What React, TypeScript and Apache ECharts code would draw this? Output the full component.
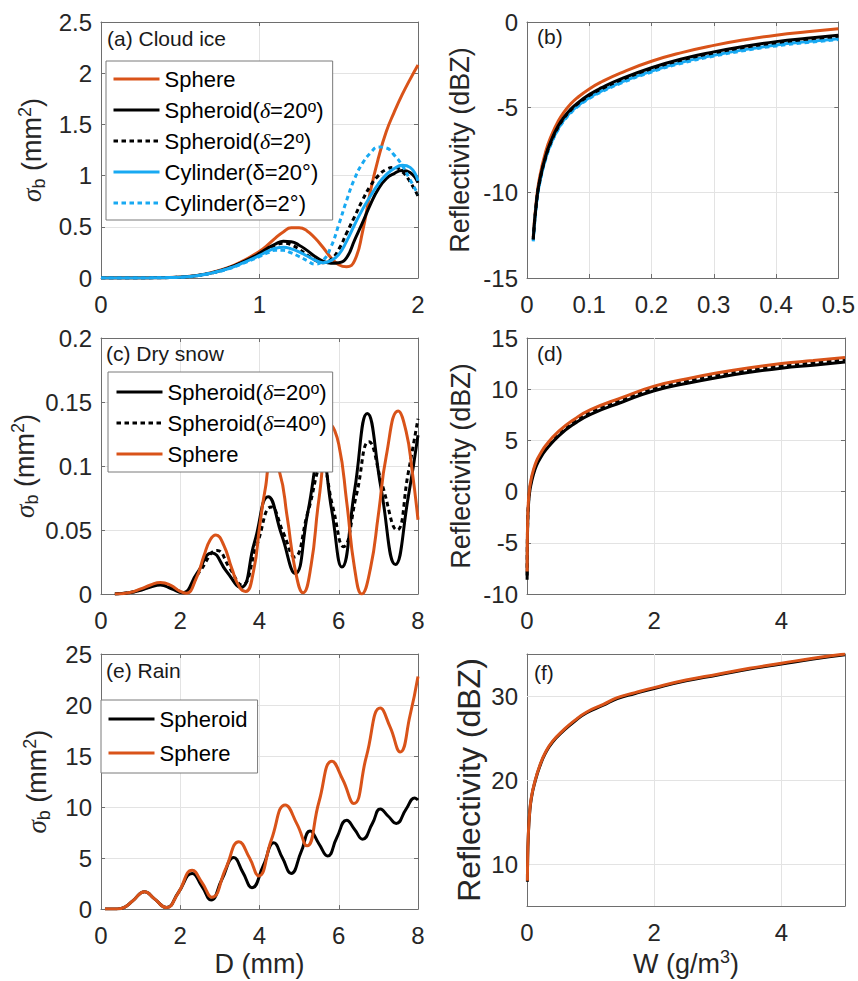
import React, { useEffect, useRef } from 'react';
import * as echarts from 'echarts';

const FONT = '"Liberation Sans", Arial, Helvetica, sans-serif';
const SERIF = '"Liberation Serif", "DejaVu Serif", serif';
const ORANGE = '#D95319';
const BLUE = '#18A9F2';
const BLACK = '#000000';
const AXIS = '#6E6E6E';
const GRIDC = '#E3E3E3';
const LABELC = '#262626';
const DOT = [4.5, 3.5];

// ---------- Panel (a) Cloud ice: sigma_b vs D ----------
const aD = [0, 0.1, 0.2, 0.3, 0.4, 0.5, 0.6, 0.7, 0.8, 0.9, 1.0, 1.05, 1.1, 1.15, 1.2, 1.25, 1.3, 1.35, 1.4, 1.45, 1.5, 1.55, 1.6, 1.65, 1.7, 1.75, 1.8, 1.85, 1.9, 1.95, 2.0];
const aSphere = [0, 0, 0, 0.001, 0.003, 0.009, 0.025, 0.055, 0.1, 0.17, 0.26, 0.32, 0.39, 0.45, 0.49, 0.49, 0.46, 0.39, 0.3, 0.2, 0.13, 0.11, 0.17, 0.45, 0.85, 1.17, 1.43, 1.62, 1.79, 1.94, 2.08];
const aSpheroid20 = [0, 0, 0, 0.001, 0.003, 0.008, 0.022, 0.05, 0.095, 0.16, 0.24, 0.29, 0.33, 0.36, 0.355, 0.32, 0.27, 0.21, 0.165, 0.145, 0.15, 0.2, 0.37, 0.54, 0.72, 0.87, 0.97, 1.02, 1.05, 1.03, 0.93];
const aSpheroid2 = [0, 0, 0, 0.001, 0.003, 0.008, 0.022, 0.05, 0.093, 0.155, 0.23, 0.28, 0.32, 0.34, 0.325, 0.28, 0.225, 0.175, 0.15, 0.18, 0.28, 0.44, 0.6, 0.76, 0.9, 1.0, 1.06, 1.08, 1.04, 0.94, 0.8];
const aCylinder20 = [0, 0, 0, 0.001, 0.003, 0.008, 0.022, 0.05, 0.09, 0.15, 0.22, 0.26, 0.29, 0.3, 0.285, 0.255, 0.215, 0.175, 0.15, 0.17, 0.23, 0.36, 0.52, 0.67, 0.8, 0.92, 1.01, 1.07, 1.1, 1.08, 0.95];
const aCylinder2 = [0, 0, 0, 0.001, 0.003, 0.008, 0.021, 0.048, 0.088, 0.145, 0.21, 0.245, 0.27, 0.27, 0.245, 0.21, 0.17, 0.135, 0.17, 0.3, 0.52, 0.76, 0.97, 1.12, 1.22, 1.28, 1.27, 1.2, 1.1, 0.96, 0.82];

// ---------- Panel (b) Cloud ice: reflectivity vs W ----------
const bW = [0.01, 0.015, 0.02, 0.03, 0.04, 0.05, 0.06, 0.07, 0.08, 0.1, 0.12, 0.15, 0.2, 0.25, 0.3, 0.35, 0.4, 0.45, 0.5];
const bSphere = [-12.6, -10.45, -9.15, -7.6, -6.58, -5.82, -5.25, -4.81, -4.46, -3.92, -3.5, -2.99, -2.3, -1.78, -1.37, -1.04, -0.77, -0.57, -0.4];
const bSpheroid20 = [-12.7, -10.6, -9.35, -7.85, -6.85, -6.1, -5.55, -5.12, -4.78, -4.25, -3.85, -3.35, -2.68, -2.15, -1.75, -1.42, -1.15, -0.95, -0.78];
const bSpheroid2 = [-12.75, -10.65, -9.41, -7.91, -6.91, -6.16, -5.61, -5.18, -4.84, -4.31, -3.91, -3.41, -2.74, -2.21, -1.81, -1.48, -1.21, -1.01, -0.84];
const bCylinder20 = [-12.8, -10.7, -9.47, -7.98, -6.99, -6.25, -5.71, -5.29, -4.95, -4.43, -4.04, -3.55, -2.88, -2.35, -1.95, -1.62, -1.35, -1.15, -0.98];
const bCylinder2 = [-12.85, -10.75, -9.52, -8.03, -7.04, -6.3, -5.76, -5.34, -5.0, -4.48, -4.09, -3.6, -2.93, -2.4, -2.0, -1.67, -1.4, -1.2, -1.03];

// ---------- Panel (c) Dry snow: sigma_b vs D ----------
const cSpheroid20D = [0.35, 0.7, 1.0, 1.25, 1.5, 1.78, 2.05, 2.42, 2.8, 3.16, 3.52, 3.87, 4.22, 4.56, 4.9, 5.22, 5.55, 5.82, 6.08, 6.4, 6.72, 7.07, 7.43, 7.75, 8.0];
const cSpheroid20 = [0, 0.001, 0.003, 0.0055, 0.007, 0.004, 0.001, 0.016, 0.032, 0.018, 0.005, 0.04, 0.076, 0.046, 0.016, 0.064, 0.112, 0.066, 0.021, 0.081, 0.141, 0.082, 0.023, 0.075, 0.124];
const cSpheroid40D = [0.35, 0.7, 1.0, 1.25, 1.5, 1.8, 2.1, 2.5, 2.93, 3.25, 3.55, 3.93, 4.3, 4.6, 4.88, 5.23, 5.58, 5.85, 6.12, 6.45, 6.76, 7.1, 7.47, 7.75, 8.0];
const cSpheroid40 = [0, 0.001, 0.003, 0.006, 0.008, 0.005, 0.001, 0.018, 0.034, 0.02, 0.007, 0.038, 0.068, 0.048, 0.029, 0.065, 0.1, 0.068, 0.037, 0.078, 0.119, 0.085, 0.05, 0.094, 0.137];
const cSphereD = [0.35, 0.7, 1.0, 1.25, 1.5, 1.75, 2.0, 2.15, 2.4, 2.6, 2.75, 2.9, 3.1, 3.3, 3.5, 3.65, 3.85, 4.0, 4.15, 4.3, 4.5, 4.7, 4.9, 5.1, 5.3, 5.5, 5.8, 6.0, 6.2, 6.4, 6.58, 6.8, 7.0, 7.2, 7.5, 7.7, 7.85, 8.0];
const cSphere = [0, 0.001, 0.004, 0.007, 0.009, 0.007, 0.002, 0.0005, 0.012, 0.03, 0.042, 0.046, 0.038, 0.02, 0.005, 0.002, 0.018, 0.052, 0.083, 0.103, 0.096, 0.06, 0.019, 0.001, 0.022, 0.074, 0.132, 0.117, 0.072, 0.02, 0.0, 0.02, 0.062, 0.108, 0.143, 0.127, 0.097, 0.058];

// ---------- Panel (d) Dry snow: reflectivity vs W ----------
const dW = [0.002, 0.005, 0.01, 0.02, 0.04, 0.07, 0.1, 0.15, 0.2, 0.3, 0.5, 0.75, 1.0, 1.5, 2.0, 2.5, 3.0, 3.5, 4.0, 4.5, 5.0];
const dSpheroid20 = [-8.6, -5.6, -3.5, -1.65, -0.15, 0.9, 1.65, 2.55, 3.15, 4.1, 5.45, 6.65, 7.55, 8.75, 9.85, 10.55, 11.15, 11.65, 12.05, 12.35, 12.65];
const dSpheroid40 = [-8.2, -5.3, -3.25, -1.42, 0.08, 1.12, 1.88, 2.78, 3.38, 4.33, 5.68, 6.88, 7.78, 8.98, 10.08, 10.78, 11.38, 11.88, 12.28, 12.58, 12.88];
const dSphere = [-7.8, -5.0, -3.0, -1.2, 0.3, 1.35, 2.1, 3.0, 3.6, 4.55, 5.9, 7.1, 8.0, 9.2, 10.3, 11.0, 11.6, 12.1, 12.5, 12.8, 13.1];

// ---------- Panel (e) Rain: sigma_b vs D ----------
const eSpheroidD = [0.1, 0.4, 0.6, 0.8, 1.1, 1.35, 1.65, 1.95, 2.3, 2.55, 2.78, 3.05, 3.35, 3.58, 3.81, 4.1, 4.36, 4.58, 4.8, 5.05, 5.28, 5.5, 5.72, 5.95, 6.2, 6.4, 6.6, 6.85, 7.05, 7.25, 7.45, 7.7, 7.92, 8.0];
const eSpheroid = [0, 0.02, 0.2, 0.8, 1.7, 1.0, 0.15, 1.6, 3.5, 2.2, 0.9, 2.9, 5.05, 3.6, 2.1, 4.3, 6.5, 5.0, 3.5, 5.6, 7.65, 6.4, 5.2, 7.0, 8.7, 7.8, 6.85, 8.4, 9.8, 9.1, 8.4, 9.8, 10.9, 10.7];
const eSphereD = [0.1, 0.4, 0.6, 0.8, 1.1, 1.35, 1.65, 1.95, 2.3, 2.55, 2.8, 3.15, 3.48, 3.75, 3.98, 4.3, 4.65, 4.95, 5.2, 5.5, 5.83, 6.1, 6.38, 6.7, 7.05, 7.3, 7.55, 7.8, 8.0];
const eSphere = [0, 0.02, 0.2, 0.8, 1.7, 1.0, 0.15, 1.6, 3.8, 2.6, 1.15, 4.0, 6.6, 5.0, 3.25, 6.8, 10.2, 8.3, 6.2, 10.5, 14.5, 12.7, 10.35, 15.0, 19.7, 17.8, 15.4, 19.0, 22.8];

// ---------- Panel (f) Rain: reflectivity vs W ----------
const fW = [0.007, 0.01, 0.02, 0.04, 0.07, 0.13, 0.2, 0.29, 0.4, 0.58, 0.75, 0.94, 1.2, 1.42, 1.7, 2.0, 2.5, 3.0, 3.5, 4.0, 4.5, 5.0];
const fSpheroid = [7.9, 10.4, 13.2, 15.9, 17.9, 19.9, 21.6, 23.2, 24.5, 25.9, 27.0, 28.0, 28.9, 29.7, 30.3, 30.9, 31.8, 32.5, 33.2, 33.8, 34.4, 34.9];
const fSphere = [8.0, 10.5, 13.3, 16.0, 18.0, 20.0, 21.7, 23.3, 24.6, 26.0, 27.1, 28.1, 29.0, 29.8, 30.4, 31.0, 31.9, 32.6, 33.3, 33.9, 34.5, 35.0];

// ---------- Ticks ----------
const fXTicks = [0, 2, 4];
const dXTicks = [0, 2, 4];
const fYTicks = [10, 20, 30];

// ---------- Names ----------
const N_SPHERE = 'Sphere';
const N_SPD20 = 'Spheroid(δ=20°)';
const N_SPD2 = 'Spheroid(δ=2°)';
const N_SPD40 = 'Spheroid(δ=40°)';
const N_CYL20 = 'Cylinder(δ=20°)';
const N_CYL2 = 'Cylinder(δ=2°)';
const N_SPD = 'Spheroid';

const aLegend = [N_SPHERE, N_SPD20, N_SPD2, N_CYL20, N_CYL2];
const cLegend = [N_SPD20, N_SPD40, N_SPHERE];
const eLegend = [N_SPD, N_SPHERE];

const legendText: Record<string, string> = {
  [N_SPD20]: 'Spheroid({d|δ}=20{sup|o})',
  [N_SPD2]: 'Spheroid({d|δ}=2{sup|o})',
  [N_SPD40]: 'Spheroid({d|δ}=40{sup|o})',
};

const zip = (xs: number[], ys: number[]) => xs.map((x, i) => [x, ys[i]]);

const GRIDS = [
  { left: 101, top: 22, width: 317, height: 256 },
  { left: 527, top: 22, width: 318, height: 256 },
  { left: 101, top: 338, width: 317, height: 256 },
  { left: 527, top: 338, width: 318, height: 256 },
  { left: 101, top: 654, width: 317, height: 256 },
  { left: 527, top: 654, width: 318, height: 256 },
];

const sigmaName = '{s|σ}{sub|b}{n| (mm}{sup|2}{n|)}';
const sigmaStyle = {
  fontSize: 27, fontFamily: FONT, color: LABELC, lineHeight: 32,
  rich: {
    s: { fontSize: 27, fontFamily: SERIF, fontStyle: 'italic', color: LABELC, lineHeight: 32 },
    sub: { fontSize: 18, fontFamily: FONT, color: LABELC, lineHeight: 16, verticalAlign: 'bottom' },
    n: { fontSize: 27, fontFamily: FONT, color: LABELC, lineHeight: 32 },
    sup: { fontSize: 18, fontFamily: FONT, color: LABELC, lineHeight: 14, verticalAlign: 'top' },
  },
};
const reflStyle = { fontSize: 27, fontFamily: FONT, color: LABELC, lineHeight: 32 };
const reflStyleBig = { fontSize: 32, fontFamily: FONT, color: LABELC, lineHeight: 36 };
const wName = '{n|W (g/m}{sup|3}{n|)}';
const wStyle = {
  fontSize: 27, fontFamily: FONT, color: LABELC, lineHeight: 32,
  rich: {
    n: { fontSize: 27, fontFamily: FONT, color: LABELC, lineHeight: 32 },
    sup: { fontSize: 18, fontFamily: FONT, color: LABELC, lineHeight: 14, verticalAlign: 'top' },
  },
};

function axisPair(dim: 'x' | 'y', gi: number, min: number, max: number, interval: number, opts: any = {}) {
  const line = { show: true, onZero: false, lineStyle: { color: AXIS, width: 1 } };
  const tick: any = { show: true, inside: true, length: 4, lineStyle: { color: AXIS, width: 1 } };
  if (opts.tickValues) tick.customValues = opts.tickValues;
  const label: any = {
    show: true, color: LABELC, fontSize: 24, fontFamily: FONT,
    margin: dim === 'x' ? 14 : 9,
    showMaxLabel: true, showMinLabel: true,
  };
  if (opts.labelValues) label.customValues = opts.labelValues;
  if (opts.formatter) label.formatter = opts.formatter;
  const main: any = {
    type: 'value', gridIndex: gi, min, max, interval,
    position: dim === 'x' ? 'bottom' : 'left',
    axisLine: line, axisTick: tick, axisLabel: label,
    splitLine: { show: opts.split ?? true, lineStyle: { color: GRIDC, width: 1 } },
  };
  if (opts.name) {
    main.name = opts.name;
    main.nameLocation = 'middle';
    main.nameGap = opts.nameGap;
    main.nameRotate = dim === 'y' ? 90 : 0;
    main.nameTextStyle = opts.nameTextStyle;
  }
  const mirror = {
    type: 'value', gridIndex: gi, min, max, interval,
    position: dim === 'x' ? 'top' : 'right',
    axisLine: line, axisTick: tick, axisLabel: { show: false }, splitLine: { show: false },
  };
  return [main, mirror];
}

function lineSeries(name: string, data: number[][], gi: number, color: string, dotted = false, extra: any = {}) {
  return {
    type: 'line', name, data,
    xAxisIndex: gi * 2, yAxisIndex: gi * 2,
    showSymbol: false, symbol: 'none',
    smooth: 0.5,
    clip: true, silent: true,
    emphasis: { disabled: true },
    lineStyle: { color, width: 3, type: dotted ? DOT : 'solid', cap: 'butt', join: 'round' },
    itemStyle: { color },
    ...extra,
  };
}

const legendBase = {
  orient: 'vertical',
  itemWidth: 46, itemHeight: 14,
  backgroundColor: '#ffffff',
  borderColor: '#7A7A7A', borderWidth: 1, borderRadius: 0,
  selectedMode: false,
  z: 10,
  lineStyle: { width: 3 },
  itemStyle: { opacity: 0 },
  textStyle: {
    fontSize: 22, fontFamily: FONT, color: '#000', lineHeight: 24,
    rich: {
      d: { fontFamily: SERIF, fontStyle: 'italic', fontSize: 22, lineHeight: 24, color: '#000' },
      sup: { fontFamily: FONT, fontSize: 16, lineHeight: 9, verticalAlign: 'top', color: '#000' },
    },
  },
  formatter: (n: string) => legendText[n] ?? n,
};

function panelLabel(text: string, x: number, y: number) {
  return {
    type: 'text', x, y, silent: true, z: 20,
    style: { text, fontSize: 21, fontFamily: FONT, fill: '#1a1a1a', verticalAlign: 'middle', align: 'left' },
  };
}

export default function App() {
  const ref = useRef<HTMLDivElement>(null);
  useEffect(() => {
    if (!ref.current) return;
    const chart = echarts.init(ref.current, undefined, { renderer: 'svg' });
    const xAxis = [
      ...axisPair('x', 0, 0, 2, 1),
      ...axisPair('x', 1, 0, 0.5, 0.1),
      ...axisPair('x', 2, 0, 8, 2),
      ...axisPair('x', 3, 0, 5, 1, { labelValues: dXTicks, tickValues: dXTicks }),
      ...axisPair('x', 4, 0, 8, 2, { name: 'D (mm)', nameGap: 34, nameTextStyle: reflStyle }),
      ...axisPair('x', 5, 0, 5, 1, { labelValues: fXTicks, tickValues: fXTicks, name: wName, nameGap: 42, nameTextStyle: wStyle }),
    ];
    const yAxis = [
      ...axisPair('y', 0, 0, 2.5, 0.5, { name: sigmaName, nameGap: 53, nameTextStyle: sigmaStyle }),
      ...axisPair('y', 1, -15, 0, 5, { name: 'Reflectivity (dBZ)', nameGap: 51, nameTextStyle: reflStyle }),
      ...axisPair('y', 2, 0, 0.2, 0.05, { name: sigmaName, nameGap: 55, nameTextStyle: sigmaStyle }),
      ...axisPair('y', 3, -10, 15, 5, { name: 'Reflectivity (dBZ)', nameGap: 50, nameTextStyle: reflStyle }),
      ...axisPair('y', 4, 0, 25, 5, { name: sigmaName, nameGap: 48, nameTextStyle: sigmaStyle }),
      ...axisPair('y', 5, 5, 35, 5, {
        name: 'Reflectivity (dBZ)', nameGap: 39, nameTextStyle: reflStyleBig,
        split: false, labelValues: fYTicks, tickValues: fYTicks,
        formatter: (v: number) => (fYTicks.includes(v) ? String(v) : ''),
      }),
    ];
    // x split lines for (d),(f) only at labelled ticks
    xAxis[6].splitLine = { show: false };
    xAxis[10].splitLine = { show: false };
    const gridMark = (xs: number[], ys: number[]) => ({
      silent: true, symbol: 'none', z: 1, animation: false,
      label: { show: false }, emphasis: { disabled: true },
      lineStyle: { color: GRIDC, width: 1, type: 'solid' },
      data: [...xs.map((v) => ({ xAxis: v })), ...ys.map((v) => ({ yAxis: v }))],
    });
    const series = [
      // (a)
      lineSeries(N_SPHERE, zip(aD, aSphere), 0, ORANGE),
      lineSeries(N_SPD20, zip(aD, aSpheroid20), 0, BLACK),
      lineSeries(N_SPD2, zip(aD, aSpheroid2), 0, BLACK, true),
      lineSeries(N_CYL20, zip(aD, aCylinder20), 0, BLUE),
      lineSeries(N_CYL2, zip(aD, aCylinder2), 0, BLUE, true),
      // (b)
      lineSeries(N_SPHERE, zip(bW, bSphere), 1, ORANGE),
      lineSeries(N_CYL20, zip(bW, bCylinder20), 1, BLUE),
      lineSeries(N_CYL2, zip(bW, bCylinder2), 1, BLUE, true),
      lineSeries(N_SPD2, zip(bW, bSpheroid2), 1, BLACK, true),
      lineSeries(N_SPD20, zip(bW, bSpheroid20), 1, BLACK),
      // (c)
      lineSeries(N_SPD20, zip(cSpheroid20D, cSpheroid20), 2, BLACK),
      lineSeries(N_SPD40, zip(cSpheroid40D, cSpheroid40), 2, BLACK, true),
      lineSeries(N_SPHERE, zip(cSphereD, cSphere), 2, ORANGE),
      // (d)
      lineSeries(N_SPD20, zip(dW, dSpheroid20), 3, BLACK, false, { markLine: gridMark(dXTicks.filter((v) => v > 0), []) }),
      lineSeries(N_SPD40, zip(dW, dSpheroid40), 3, BLACK, true),
      lineSeries(N_SPHERE, zip(dW, dSphere), 3, ORANGE),
      // (e)
      lineSeries(N_SPD, zip(eSpheroidD, eSpheroid), 4, BLACK),
      lineSeries(N_SPHERE, zip(eSphereD, eSphere), 4, ORANGE),
      // (f)
      lineSeries(N_SPD, zip(fW, fSpheroid), 5, BLACK, false, { markLine: gridMark(fXTicks.filter((v) => v > 0), fYTicks) }),
      lineSeries(N_SPHERE, zip(fW, fSphere), 5, ORANGE),
    ];
    chart.setOption({
      animation: false,
      backgroundColor: '#ffffff',
      textStyle: { fontFamily: FONT },
      grid: GRIDS.map((g) => ({ ...g, containLabel: false })),
      xAxis,
      yAxis,
      series,
      legend: [
        { ...legendBase, left: 106, top: 61, itemGap: 7, padding: [6, 9, 5, 6], data: aLegend },
        { ...legendBase, left: 108, top: 372, itemGap: 7, padding: [8, 6, 6, 7], data: cLegend },
        { ...legendBase, left: 101, top: 700, itemGap: 10, padding: [7, 10, 8, 6], data: eLegend },
      ],
      graphic: [
        panelLabel('(a) Cloud ice', 107, 38),
        panelLabel('(b)', 537, 36),
        panelLabel('(c) Dry snow', 106, 353),
        panelLabel('(d)', 537, 353),
        panelLabel('(e) Rain', 106, 670),
        panelLabel('(f)', 534, 672),
      ],
    });
    return () => chart.dispose();
  }, []);
  return (
    <div
      ref={ref}
      style={{ position: 'fixed', left: 0, top: 0, width: 858, height: 981, background: '#fff' }}
    />
  );
}
